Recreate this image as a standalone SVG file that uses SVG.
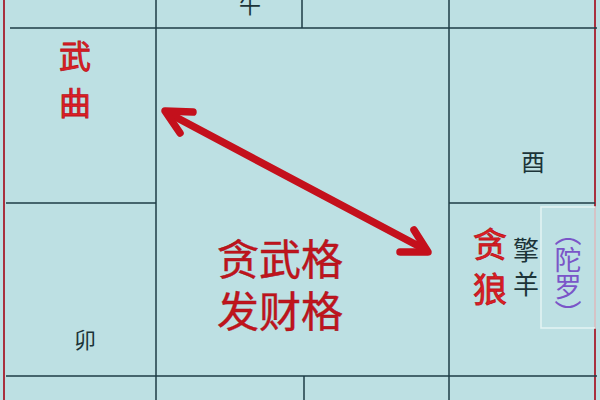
<svg xmlns="http://www.w3.org/2000/svg" width="600" height="400" viewBox="0 0 600 400">
<style>
.grid{stroke:#1e3c46;stroke-width:1.5;fill:none}
.edge{stroke:#a8303e;stroke-width:2;fill:none}
.cjk{font-family:"Noto Sans CJK SC","Noto Sans",sans-serif;text-anchor:middle}
.dark{fill:#1c3438}
.red{fill:#e01e24;stroke:#b8141c;stroke-width:0.8}
.deep{fill:#c0141c;stroke:#a0101a;stroke-width:0.4}
.purple{fill:#7a55c8}
.arrow{stroke:#c4101c;stroke-width:7.5;fill:none;stroke-linecap:round;stroke-linejoin:round}
</style>
<rect x="0" y="0" width="600" height="400" fill="#bde0e3"/>
<g id="frame">
<line class="edge" x1="4" y1="0" x2="4" y2="400"/>
<line class="edge" x1="595" y1="0" x2="595" y2="400"/>
<line class="grid" x1="10" y1="28" x2="597" y2="28"/>
<line class="grid" x1="6" y1="376" x2="597" y2="376"/>
<line class="grid" x1="156" y1="0" x2="156" y2="400"/>
<line class="grid" x1="449" y1="0" x2="449" y2="400"/>
<line class="grid" x1="302" y1="0" x2="302" y2="28"/>
<line class="grid" x1="304" y1="376" x2="304" y2="400"/>
<line class="grid" x1="6" y1="203" x2="156" y2="203"/>
<line class="grid" x1="449" y1="203" x2="595" y2="203"/>
</g>
<g id="cell-wu">
<text class="cjk dark" x="250" y="13" font-size="22">午</text>
</g>
<g id="cell-wuqu">
<text class="cjk red" x="75" y="68" font-size="32">武</text>
<text class="cjk red" x="75" y="115" font-size="32">曲</text>
</g>
<g id="cell-mao">
<text class="cjk dark" x="85" y="348" font-size="22">卯</text>
</g>
<g id="cell-you">
<text class="cjk dark" x="533" y="171" font-size="24">酉</text>
</g>
<g id="cell-tanlang">
<text class="cjk red" x="490" y="257" font-size="34">贪</text>
<text class="cjk red" x="490" y="302" font-size="34">狼</text>
<text class="cjk dark" x="526" y="260" font-size="26">擎</text>
<text class="cjk dark" x="526" y="294" font-size="26">羊</text>
<rect x="541" y="207" width="54" height="121" fill="none" stroke="#e4f4f4" stroke-width="1.5"/>
<text class="purple" x="568" y="219" font-size="27" font-family="Noto Sans CJK SC, sans-serif" writing-mode="vertical-rl">（陀罗）</text>
</g>
<g id="center">
<text class="cjk deep" x="280" y="275" font-size="42">贪武格</text>
<text class="cjk deep" x="280" y="327" font-size="42">发财格</text>
</g>
<g id="connectors">
<path class="arrow" d="M168,113 L426,250"/>
<path class="arrow" d="M193,112 L165,111 L180,133"/>
<path class="arrow" d="M400,252 L428,252 L414,230"/>
</g>
</svg>
